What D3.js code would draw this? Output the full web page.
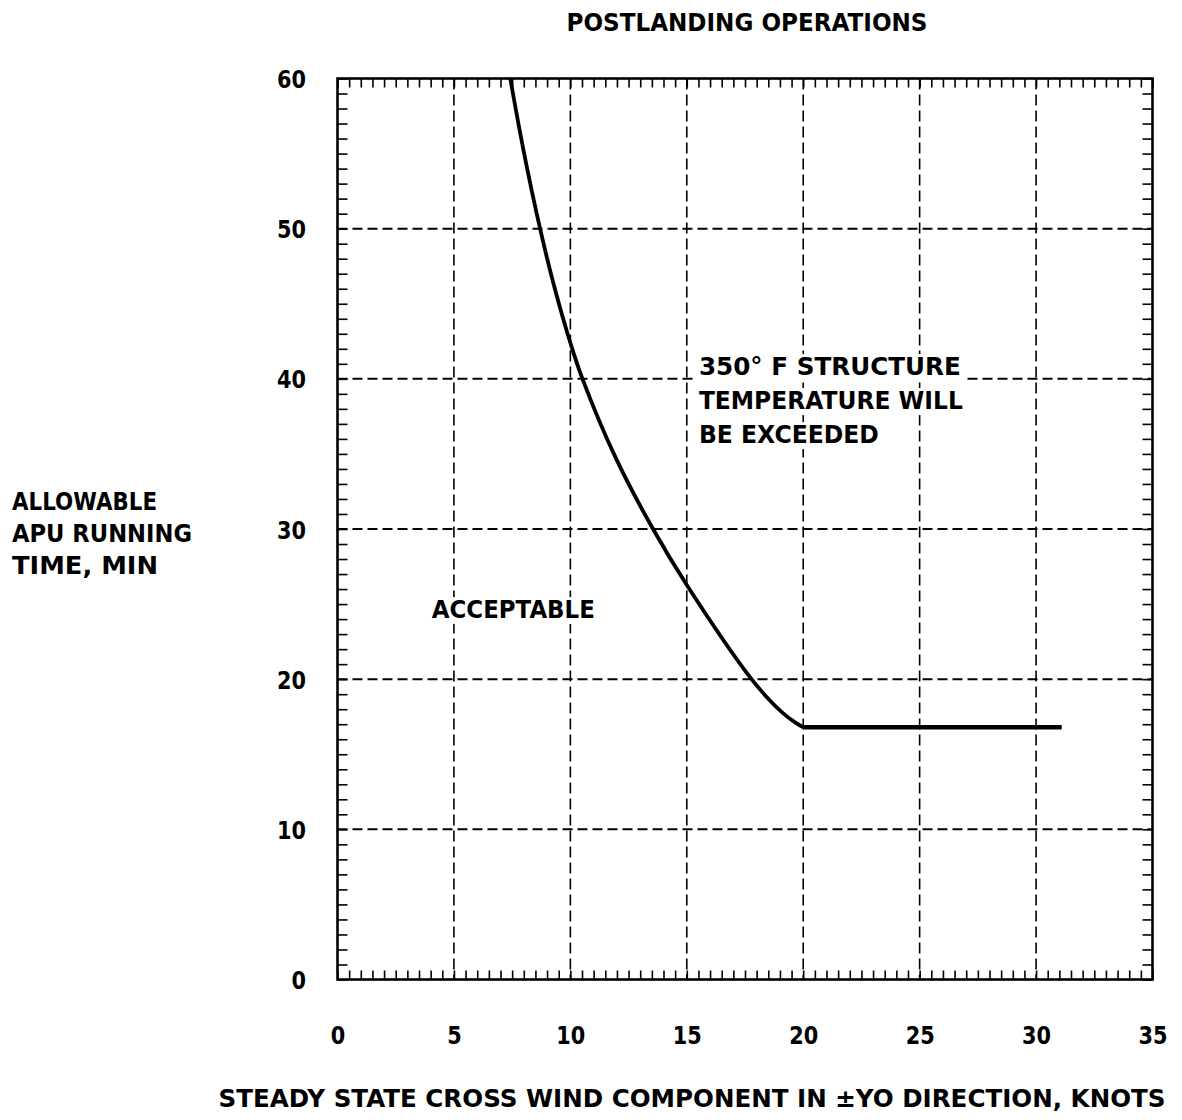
<!DOCTYPE html>
<html>
<head>
<meta charset="utf-8">
<script src="https://cdn.jsdelivr.net/npm/d3@7"></script>
<style>
html,body{margin:0;padding:0;background:#fff;}
svg text{font-family:"DejaVu Sans","Liberation Sans",sans-serif;font-weight:bold;fill:#000;}
</style>
</head>
<body>
<svg id="chart" width="1182" height="1120"></svg>
<script>
// ---- data ----
const title = "POSTLANDING OPERATIONS";
const xLabel = "STEADY STATE CROSS WIND COMPONENT IN \u00B1YO DIRECTION, KNOTS";
const yLabelLines = ["ALLOWABLE", "APU RUNNING", "TIME, MIN"];
const xTickValues = [0, 5, 10, 15, 20, 25, 30, 35];
const yTickValues = [0, 10, 20, 30, 40, 50, 60];
const curveWind = [7.42, 7.99, 8.7, 9.3, 10.0, 10.52, 11.99, 13.55, 15.0, 17.78, 18.56, 19.13, 19.7, 20.0, 31.1];
const curveTime = [60, 55.2, 50, 46.2, 42.4, 40, 34.6, 30, 26.27, 20, 18.6, 17.74, 17.07, 16.8, 16.8];
const annotations = [
  {lines: ["350\u00B0 F STRUCTURE", "TEMPERATURE WILL", "BE EXCEEDED"], widths: [262, 264, 180], x: 15.52, y: 40.25},
  {lines: ["ACCEPTABLE"], widths: [163], x: 4.05, y: 24.07}
];

const svg = d3.select("#chart");
const x = d3.scaleLinear().domain([0, 35]).range([337.5, 1152.5]);
const y = d3.scaleLinear().domain([0, 60]).range([979.5, 78.5]);

// grid lines
const g = svg.append("g");
g.selectAll(".vg").data(xTickValues.slice(1, -1)).enter().append("line")
  .attr("x1", d => x(d)).attr("x2", d => x(d))
  .attr("y1", y(60)).attr("y2", y(0))
  .attr("stroke", "#000").attr("stroke-width", 1.6).attr("stroke-dasharray", "11,5");
g.selectAll(".hg").data(yTickValues.slice(1, -1)).enter().append("line")
  .attr("x1", x(0)).attr("x2", x(35))
  .attr("y1", d => y(d)).attr("y2", d => y(d))
  .attr("stroke", "#000").attr("stroke-width", 2).attr("stroke-dasharray", "10,5");

// minor ticks via axes (inward)
const xMinor = d3.range(0, 35.01, 0.5);
const yMinor = d3.range(0, 60.01, 1);
function styleAxis(sel){
  sel.select(".domain").remove();
  sel.selectAll("text").remove();
  sel.selectAll("line").attr("stroke", "#000").attr("stroke-width", 1.6);
}
svg.append("g").attr("transform", `translate(0,${y(0)})`)
  .call(d3.axisTop(x).tickValues(xMinor).tickSize(9)).call(styleAxis);
svg.append("g").attr("transform", `translate(0,${y(60)})`)
  .call(d3.axisBottom(x).tickValues(xMinor).tickSize(9)).call(styleAxis);
svg.append("g").attr("transform", `translate(${x(0)},0)`)
  .call(d3.axisRight(y).tickValues(yMinor).tickSize(10)).call(styleAxis);
svg.append("g").attr("transform", `translate(${x(35)},0)`)
  .call(d3.axisLeft(y).tickValues(yMinor).tickSize(10)).call(styleAxis);

// annotations with white backgrounds
annotations.forEach(a => {
  const lh = 34;
  const grp = svg.append("g");
  const texts = a.lines.map((t, i) => grp.append("text")
    .attr("x", x(a.x)).attr("y", y(a.y) + i * lh)
    .attr("font-size", 25)
    .attr("textLength", a.widths[i]).attr("lengthAdjust", "spacingAndGlyphs")
    .text(t));
  texts.forEach(t => {
    const b = t.node().getBBox();
    grp.insert("rect", "text").attr("x", b.x - 3).attr("y", b.y + 2)
      .attr("width", b.width + 6).attr("height", b.height - 2).attr("fill", "#fff");
  });
});

// frame
svg.append("rect").attr("x", x(0)).attr("y", y(60))
  .attr("width", x(35) - x(0)).attr("height", y(0) - y(60))
  .attr("fill", "none").attr("stroke", "#000").attr("stroke-width", 2.6);

// curve
const pts = curveWind.map((w, i) => [w, curveTime[i]]);
const lineGen = d3.line().x(d => x(d[0])).y(d => y(d[1])).curve(d3.curveCatmullRom.alpha(0.5));
svg.append("path").datum(pts.slice(0, -1)).attr("d", lineGen)
  .attr("fill", "none").attr("stroke", "#000").attr("stroke-width", 3.8);
svg.append("path").datum(pts.slice(-2)).attr("d", d3.line().x(d => x(d[0])).y(d => y(d[1])))
  .attr("fill", "none").attr("stroke", "#000").attr("stroke-width", 4.4).attr("stroke-linecap", "butt");

// tick labels
const ya = svg.append("g").attr("transform", `translate(${x(0)},0)`)
  .call(d3.axisLeft(y).tickValues(yTickValues).tickSize(0).tickPadding(31.5).tickFormat(d3.format("d")));
ya.select(".domain").remove();
ya.selectAll("text").attr("font-size", 25).attr("font-family", null).attr("dy", "0.36em")
  .attr("textLength", d => String(d).length * 14.5).attr("lengthAdjust", "spacingAndGlyphs");
const xa = svg.append("g").attr("transform", `translate(0,${y(0)})`)
  .call(d3.axisBottom(x).tickValues(xTickValues).tickSize(0).tickPadding(47).tickFormat(d3.format("d")));
xa.select(".domain").remove();
xa.selectAll("text").attr("font-size", 25).attr("font-family", null).attr("dy", "0.71em")
  .attr("textLength", d => String(d).length * 14.5).attr("lengthAdjust", "spacingAndGlyphs");

// titles
svg.append("text").attr("x", 747).attr("y", 31).attr("text-anchor", "middle")
  .attr("font-size", 25).attr("textLength", 361).attr("lengthAdjust", "spacingAndGlyphs").text(title);
svg.append("text").attr("x", 692).attr("y", 1107).attr("text-anchor", "middle")
  .attr("font-size", 25).attr("textLength", 947).attr("lengthAdjust", "spacingAndGlyphs").text(xLabel);
const yWidths = [145, 180, 146];
yLabelLines.forEach((t, i) => {
  svg.append("text").attr("x", 12).attr("y", 510 + i * 32).attr("font-size", 25)
    .attr("textLength", yWidths[i]).attr("lengthAdjust", "spacingAndGlyphs").text(t);
});
</script>
</body>
</html>
